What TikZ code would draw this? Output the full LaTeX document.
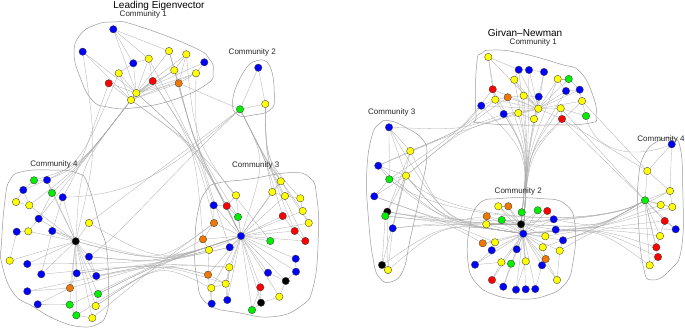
\documentclass[tikz,border=0pt]{standalone}
\usepackage{fontspec}
\setmainfont{Liberation Sans}
\pgfdeclarelayer{bg}
\pgfsetlayers{bg,main}
\definecolor{cB}{RGB}{0,0,255}
\definecolor{cY}{RGB}{255,255,0}
\definecolor{cR}{RGB}{255,0,0}
\definecolor{cG}{RGB}{0,240,0}
\definecolor{cO}{RGB}{240,120,0}
\definecolor{cK}{RGB}{0,0,0}
\begin{document}
\begin{tikzpicture}[x=1pt,y=-1pt,
  nd/.style={circle,inner sep=0pt,minimum size=7.4pt,draw=black!75,line width=0.35pt},
  edge/.style={draw=gray!65,line width=0.3pt},
  hull/.style={draw=gray!80,line width=0.5pt},
  lab/.style={font=\fontsize{8}{9}\selectfont,text=black!85,inner sep=0pt},
  ttl/.style={font=\fontsize{10}{11}\selectfont,inner sep=0pt}]
\useasboundingbox (0,0) rectangle (685,328);

% ---------------- nodes: Leading Eigenvector ----------------
\foreach \n/\x/\y/\c in {
 a1/113.3/29.3/cB, a2/82.7/51.7/cB, a3/169/51/cY, a4/186.3/54.3/cY, a5/148.7/58.7/cY,
 a6/133.3/63.3/cB, a7/204.3/62.3/cB, a8/118.7/73.3/cY, a9/174.3/70.3/cY, a10/196/73.3/cY,
 a11/108.7/83.3/cR, a12/152.7/81/cR, a13/178.7/83.3/cO, a14/136.3/93/cY, a15/131/100/cY,
 b1/258.3/67.7/cB, b2/265.3/104/cY, b3/240/109.3/cG,
 c1/34/180.3/cG, c2/47/180/cB, c3/23.3/190/cB, c4/52/193/cG, c5/62.7/197.3/cB,
 c6/16/202/cY, c7/29.3/205.3/cY, c8/38.7/218.7/cB, c9/89/223/cY, c10/16.7/231.7/cB,
 c11/28.3/231.3/cY, c12/52.3/231/cB, c13/75.7/241.3/cK, c14/9.7/260.7/cY, c15/27.3/264/cB,
 c16/89/256.7/cB, c17/41.3/274.3/cB, c18/76.7/273.3/cB, c19/96.3/276/cB, c20/70/288/cO,
 c21/27.3/291.3/cB, c22/98/294/cG, c23/37.7/304.3/cB, c24/69.7/304.7/cG, c25/95.7/306/cY,
 c26/76.3/315.3/cG, c27/92.3/318/cY,
 d1/280.7/181.3/cY, d2/272.3/192/cY, d3/285/196/cY, d4/300.3/198.3/cY, d5/236/195.3/cY,
 d6/213.7/205.3/cB, d7/226.7/206/cR, d8/302.7/211/cY, d9/238/217/cG, d10/282.7/216/cR,
 d11/308.7/223/cY, d12/214/223/cO, d13/294.7/231/cR, d14/241/236/cB, d15/203/239.3/cO,
 d16/270.3/241/cG, d17/305.3/241/cR, d18/229.7/247.3/cB, d19/209/250/cY, d20/295.7/258.7/cB,
 d21/229.3/267.3/cY, d22/268/272.7/cB, d23/296/271.7/cB, d24/208/274.7/cO, d25/285.7/281/cK,
 d26/225.7/283.7/cY, d27/211.3/288/cY, d28/260.3/287.3/cR, d29/279.3/296.7/cY, d30/227.3/300/cB,
 d31/261/302.7/cK, d32/211.7/303.7/cB, d33/252/310/cG}
 \node[nd,fill=\c] (\n) at (\x,\y) {};

% ---------------- nodes: Girvan-Newman ----------------
\foreach \n/\x/\y/\c in {
 e1/488.3/57/cY, e2/518.7/69.7/cB, e3/529/70/cB, e4/544/72/cB, e5/514.3/79.7/cY,
 e6/557.7/79/cY, e7/568.7/79/cG, e8/492.7/89.3/cR, e9/566/91/cB, e10/579.7/89.7/cB,
 e11/507.7/97.3/cO, e12/523.7/95.7/cY, e13/538.7/96.7/cB, e14/495.3/99.7/cY, e15/582/101/cY,
 e16/481.3/105.7/cB, e17/538.3/108.7/cY, e18/560.7/108.3/cY, e19/503.7/114/cB, e20/518.3/113/cY,
 e21/534/119/cY, e22/562/119/cR, e23/586/116/cG,
 f1/389/127.3/cB, f2/410.3/151/cY, f3/378.3/165.7/cB, f4/406/175.7/cY, f5/389.3/179.3/cG,
 f6/374.3/196.3/cB, f7/387.3/211.7/cK, f8/385.3/216/cG, f9/392.7/228.3/cB, f10/382/265/cK,
 f11/388/270/cY,
 g1/498.3/206.3/cY, g2/508.3/206.3/cO, g3/521.7/212.3/cG, g4/537.7/210.3/cG, g5/547.3/211/cR,
 g6/486.7/216.3/cO, g7/501.7/220/cG, g8/553.7/219.3/cB, g9/486.3/224.3/cY, g10/521/224.3/cK,
 g11/523.3/233.7/cB, g12/555.7/229.7/cB, g13/545.3/236.3/cY, g14/563/240.3/cB, g15/482.7/243.3/cO,
 g16/495/242.3/cY, g17/491.7/250.3/cB, g18/516.7/249.3/cB, g19/542.7/247.3/cY, g20/559.7/250.7/cY,
 g21/545.7/259/cO, g22/475/264.7/cB, g23/501.3/262.3/cY, g24/511/263.7/cG, g25/525.7/261.3/cY,
 g26/542/265.3/cB, g27/492/280/cR, g28/557/280/cY, g29/503.3/286.7/cB, g30/516/289.7/cB,
 g31/525.7/289.3/cB, g32/535.3/289/cB,
 h1/671.7/144.3/cB, h2/647.3/171/cY, h3/670/191/cY, h4/645/200.3/cG, h5/660.7/205/cY,
 h6/672.3/207/cY, h7/664.7/221/cR, h8/675.7/229.3/cB, h9/660/236/cY, h10/656.3/247.3/cR,
 h11/658/257/cR, h12/649.7/265.3/cY}
 \node[nd,fill=\c] (\n) at (\x,\y) {};

% bundling points
\coordinate (H13) at (195,146);
\coordinate (H14) at (80,166);
\coordinate (H43) at (160,263);
\coordinate (H23) at (266,160);
\coordinate (J1) at (528,153);
\coordinate (J2) at (445,222);
\coordinate (J3) at (598,228);
\coordinate (J13) at (461,130);

% ---------------- labels ----------------
\node[ttl] (t1) at (159,5.5) {Leading Eigenvector};
\node[lab] (l1) at (143.3,14.5) {Community 1};
\node[lab] (l2) at (252.3,52) {Community 2};
\node[lab] (l4) at (54,164) {Community 4};
\node[lab] (l3) at (255.7,165.7) {Community 3};
\node[ttl] (t2) at (525,32.7) {Girvan–Newman};
\node[lab] (r1) at (533.3,42.7) {Community 1};
\node[lab] (r3) at (391.7,112.7) {Community 3};
\node[lab] (r2) at (518.3,191.7) {Community 2};
\node[lab] (r4) at (661,139) {Community 4};

\begin{pgfonlayer}{bg}
% hulls
\draw[hull] plot[smooth cycle,tension=0.8] coordinates {(74,53) (80,35) (95,25) (113,22) (135,25) (193,47) (210,60) (213,72) (207,84) (173,100) (133,108) (108,107) (92,100) (80,77)};
\draw[hull] plot[smooth cycle,tension=0.8] coordinates {(243,73) (256.7,60.7) (270,66.7) (274.3,96.7) (270,110) (253,115) (238,115) (232.7,100)};
\draw[hull] plot[smooth cycle,tension=0.8] coordinates {(10,180) (22,171.7) (50,170) (77,173) (88,185) (100,227) (106.7,250) (108.3,293) (106.7,313) (98,324) (80,326.7) (56.7,320) (33.3,306.7) (13.3,293) (1.7,263) (1.5,243) (5,200)};
\draw[hull] plot[smooth cycle,tension=0.8] coordinates {(206.7,190) (218,183) (250,179) (290,172.7) (310,178) (316.7,196.7) (318.3,236.7) (313.3,286.7) (300,306.7) (273.3,316.7) (240,313) (206.7,303.3) (196.7,276.7) (195,243) (198.3,210)};
\draw[hull] plot[smooth cycle,tension=0.8] coordinates {(476.7,64) (481.7,53.3) (493.3,50) (520,53) (560,64) (580,71.7) (593.3,96.7) (596,116) (590,123) (550,125) (483,123) (476,114)};
\draw[hull] plot[smooth cycle,tension=0.8] coordinates {(380,123.3) (389,120.7) (405,127) (423,140) (426.7,156.7) (421.7,186.7) (410,240) (403.3,270) (391.7,281.7) (380,278.3) (373.3,260) (368.3,216.7) (366.7,173.3) (371.7,136.7)};
\draw[hull] plot[smooth cycle,tension=0.8] coordinates {(479,204) (500,198.5) (540,198.5) (565,204) (575,225) (573,262) (565,284) (545,296) (520,299) (495,295) (476,283) (468,262) (469.5,228)};
\draw[hull] plot[smooth cycle,tension=0.8] coordinates {(660,140) (671.7,138.3) (680,146.7) (682.7,186.7) (681.7,246.7) (670,270) (651.7,280) (643.3,266.7) (638.3,220) (638.3,180) (645,153.3)};

% straight edges
\foreach \u/\v in {
 a1/a3, a1/a14, a1/a5, a2/a14, a2/a15, a14/a8, a14/a11, a14/a6, a14/a5, a14/a12, a14/a3, a14/a9,
 a14/a4, a14/a13, a14/a10, a14/a7, a15/a8, a15/a12, a15/a9, a15/a10, a15/a13, a15/a11, a6/a5,
 a6/a8, a3/a9, a4/a9, a4/a13, a7/a10, a9/a13, a10/a13, a5/a12, a1/a6, a3/a13, a14/a15,
 a13/b3, b1/b3, b1/b2, b2/b3, b3/c9,
 c13/c5, c13/c9, c13/c12, c13/c8, c13/c4, c13/c16, c13/c18, c13/c19, c13/c20, c13/c22, c13/c24,
 c13/c25, c13/c26, c13/c27, c13/c11, c13/c7, c13/c2, c13/c14, c13/c17, c13/c15, c1/c2, c3/c6,
 c3/c7, c6/c7, c10/c11, c8/c11, c14/c10, c17/c12, c21/c20, c23/c20, c24/c26, c22/c25, c4/c8,
 c5/c12, c1/c3, c2/c4, c16/c19, c18/c20, c26/c27, c23/c24,
 d14/d5, d14/d7, d14/d9, d14/d12, d14/d15, d14/d18, d14/d19, d14/d16, d14/d10, d14/d13, d14/d17,
 d14/d20, d14/d21, d14/d22, d14/d23, d14/d25, d14/d26, d14/d28, d14/d29, d14/d31, d14/d33, d14/d8,
 d14/d2, d14/d6, d14/d24, d14/d27, d14/d30, d14/d11, d14/d3, d14/d1,
 d6/d7, d6/d12, d7/d9, d5/d7, d12/d15, d15/d19, d24/d26, d27/d26, d30/d26, d32/d27, d32/d24,
 d28/d31, d29/d31, d33/d31, d22/d25, d23/d25, d1/d2, d2/d3, d3/d4, d4/d8, d8/d11, d10/d13,
 d13/d17, d26/d21, d30/d21, d19/d24, d20/d23, d29/d25, d33/d28,
 e17/e1, e17/e5, e17/e8, e17/e11, e17/e12, e17/e13, e17/e14, e17/e16, e17/e19, e17/e20, e17/e21,
 e17/e22, e17/e18, e17/e15, e17/e9, e17/e10, e17/e6, e17/e7, e17/e3, e17/e2, e17/e4,
 e1/e2, e1/e14, e2/e3, e3/e4, e5/e12, e5/e2, e6/e9, e7/e10, e9/e10, e10/e15, e15/e23, e18/e22,
 e11/e14, e8/e14, e16/e14, e19/e20, e20/e21, e11/e12, e12/e13, e1/e8, e4/e13, e6/e7, e18/e23, e13/e21,
 e22/h2, e18/h4, e22/h4, e15/h2,
 f1/f2, f1/f4, f1/f5, f3/f2, f3/f4, f5/f4, f6/f4, f6/f5, f7/f2, f8/f4, f9/f4, f9/f2, f11/f9,
 f11/f7, f10/f8, f10/f4, f3/f5,
 g11/g1, g11/g2, g11/g3, g11/g4, g11/g5, g11/g6, g11/g7, g11/g8, g11/g9, g11/g10, g11/g12, g11/g13,
 g11/g14, g11/g15, g11/g16, g11/g17, g11/g18, g11/g19, g11/g20, g11/g21, g11/g22, g11/g23, g11/g24,
 g11/g25, g11/g26, g11/g27, g11/g28, g11/g29, g11/g30, g11/g31, g11/g32,
 g10/g3, g10/g4, g10/g7, g10/g9, g10/g2, g10/g8, g10/g12, g10/g13, g10/g18, g10/g25, g10/g1, g10/g6,
 g1/g2, g6/g9, g15/g16, g16/g17, g17/g22, g23/g24, g23/g27, g24/g29, g25/g30, g26/g21, g20/g28,
 g21/g28, g14/g20, g5/g8, g22/g23, g27/g29, g26/g32, g19/g21,
 h4/h2, h4/h5, h4/h6, h4/h7, h4/h8, h4/h9, h4/h10, h4/h11, h4/h12, h4/h3, h1/h2, h1/h3, h3/h6,
 h5/h6, h7/h8, h2/h3, h9/h10, h11/h12, h7/h9}
 \draw[edge] (\u) -- (\v);

% bundled edges
\foreach \u/\v/\h in {
 a14/d14/H13, a15/d5/H13, a12/d14/H13, a9/d7/H13, a13/d9/H13, a3/d14/H13, a4/d16/H13, a14/d12/H13,
 a15/d14/H13, a13/d14/H13, a10/d18/H13, a5/d6/H13, a12/d15/H13,
 a15/c13/H14, a15/c1/H14, a14/c2/H14, a15/c4/H14, a11/c5/H14, a8/c3/H14, a15/c7/H14, a14/c8/H14,
 b3/d1/H23, b3/d2/H23, b2/d3/H23, b2/d4/H23, b3/d8/H23, b2/d11/H23, b3/d10/H23, b2/d13/H23,
 b3/d17/H23, b3/d14/H23,
 c13/d14/H43, c16/d14/H43, c18/d18/H43, c19/d21/H43, c20/d14/H43, c22/d19/H43, c24/d15/H43,
 c25/d14/H43, c27/d12/H43, c17/d26/H43, c21/d24/H43, c15/d14/H43, c26/d21/H43, c13/d12/H43,
 c9/d14/H43, c12/d18/H43, c16/d19/H43, c19/d14/H43, c22/d14/H43, c18/d24/H43, c25/d27/H43,
 e17/g11/J1, e21/g10/J1, e20/g11/J1, e12/g10/J1, e13/g11/J1, e19/g11/J1, e18/g11/J1, e22/g10/J1,
 e11/g11/J1, e14/g10/J1, e16/g11/J1, e9/g11/J1, e15/g11/J1, e5/g11/J1, e6/g10/J1, e8/g11/J1,
 e2/g10/J1, e3/g11/J1,
 e16/f2/J13, e14/f2/J13, e19/f1/J13, e11/f4/J13, e8/f5/J13, e20/f4/J13, e17/f3/J13,
 f2/g11/J2, f4/g11/J2, f5/g10/J2, f6/g11/J2, f7/g11/J2, f8/g10/J2, f9/g11/J2, f10/g11/J2,
 f11/g11/J2, f3/g9/J2, f7/g6/J2, f8/g15/J2, f4/g10/J2, f1/g11/J2, f6/g16/J2,
 g11/h4/J3, g10/h4/J3, g8/h4/J3, g12/h4/J3, g14/h4/J3, g13/h5/J3, g20/h7/J3, g19/h9/J3,
 g11/h10/J3, g11/h11/J3, g11/h12/J3, g10/h8/J3, g14/h3/J3, g12/h6/J3}
 \draw[edge] (\u) .. controls (\h) and (\h) .. (\v);

% long edges
\draw[edge] (a2) .. controls (97,150) .. (c13);
\draw[edge] (b3) .. controls (175,165) and (140,195) .. (c5);
\draw[edge] (b3) .. controls (170,175) and (120,235) .. (c16);
\foreach \u in {f4,f7,f9,f5}
 \draw[edge] (\u) .. controls (J2) and (J3) .. (h4);
\draw[edge] (e23) .. controls (595,150) and (630,160) .. (h1);
\end{pgfonlayer}
\end{tikzpicture}
\end{document}
